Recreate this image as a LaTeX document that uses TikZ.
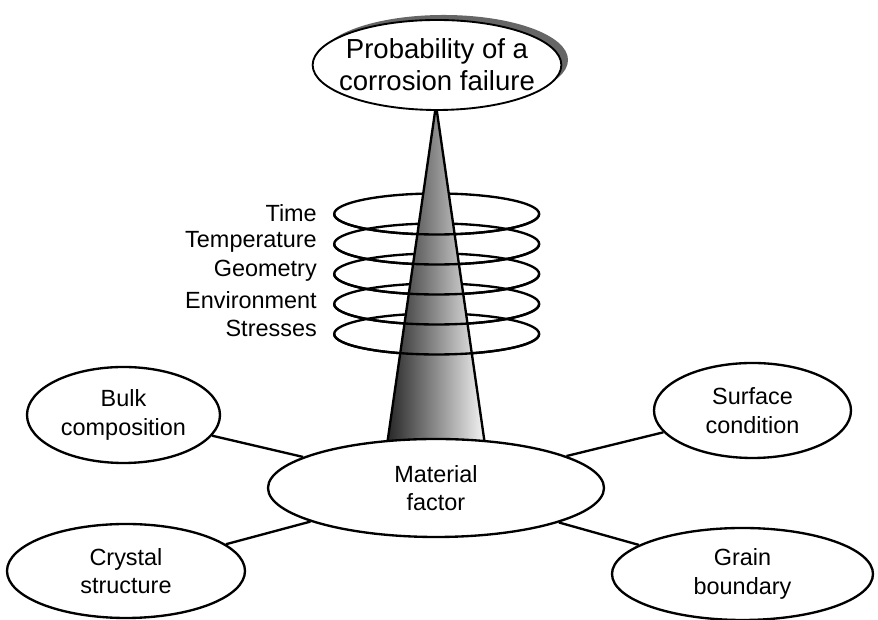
\documentclass[tikz,border=0pt]{standalone}
\usepackage{fontspec}
\setmainfont{Liberation Sans}
\usetikzlibrary{shapes.geometric,shadows}
\tikzset{
  factorbox/.style={ellipse, draw=black, fill=white, line width=2pt,
                    inner sep=0pt, align=center, font=\fontsize{20}{24.5}\selectfont},
  factorlink/.style={draw=black, line width=2pt},
  ringline/.style={draw=black, line width=2pt},
  ringlab/.style={anchor=east, inner sep=0pt, font=\fontsize{20}{24}\selectfont},
}

\begin{document}
\begin{tikzpicture}[x=1cm,y=1cm]
\useasboundingbox (0,0) rectangle (26.34,18.6);
% rings behind the cone
\foreach \y in {12.18,11.28,10.38,9.48,8.58}{%
  \draw[ringline] (13.1,\y) ellipse [x radius=3.075, y radius=0.615];
}
% the cone
\draw[line width=2pt, left color=black!85, right color=black!4, middle color=black!45]
  (11.61,5.25) -- (13.08,15.45) -- (14.55,5.25) -- cycle;
% front halves of the rings
\foreach \y in {12.18,11.28,10.38,9.48,8.58}{%
  \draw[ringline] (10.025,\y) arc [start angle=180, end angle=360, x radius=3.075, y radius=0.615];
}
\node[ringlab] (time) at (9.51,12.21) {Time};
\node[ringlab] (temp) at (9.51,11.34) {Temperature};
\node[ringlab] (geom) at (9.51,10.47) {Geometry};
\node[ringlab] (envi) at (9.51,9.6) {Environment};
\node[ringlab] (stre) at (9.51,8.76) {Stresses};

\node[factorbox, minimum width=7.2cm, minimum height=2.7cm, inner xsep=-0.3cm,
      line width=1.6pt, font=\fontsize{23.5}{27.5}\selectfont,
      general shadow={fill=black!60, shadow xshift=0.2cm, shadow yshift=0.15cm}]
  (prob) at (13.11,16.65) {Probability of a\\corrosion failure};

\node[factorbox, minimum width=10.08cm, minimum height=2.94cm] (mat) at (13.08,3.96) {Material\\factor};
\node[factorbox, minimum width=5.79cm, minimum height=2.88cm] (bulk) at (3.705,6.15) {Bulk\\composition};
\node[factorbox, minimum width=7.14cm, minimum height=2.82cm] (cryst) at (3.78,1.47) {Crystal\\structure};
\node[factorbox, minimum width=5.91cm, minimum height=2.85cm] (surf) at (22.575,6.285) {Surface\\condition};
\node[factorbox, minimum width=7.83cm, minimum height=2.76cm] (grain) at (22.275,1.38) {Grain\\boundary};

\draw[factorlink] (mat) -- (bulk);
\draw[factorlink] (mat) -- (cryst);
\draw[factorlink] (mat) -- (surf);
\draw[factorlink] (mat) -- (grain);
\end{tikzpicture}
\end{document}
